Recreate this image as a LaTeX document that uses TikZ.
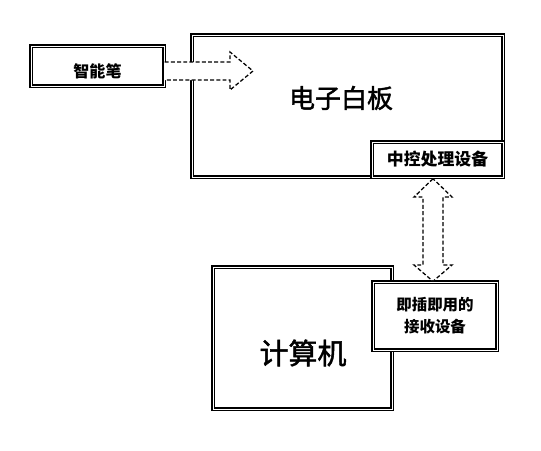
\documentclass[tikz,border=0pt]{standalone}
\usepackage{fontspec}
\setmainfont{Noto Sans CJK SC}
\newfontfamily\felkover[FakeBold=1.6]{Noto Sans CJK SC}
\usetikzlibrary{calc}

\begin{document}
\begin{tikzpicture}[x=0.025cm,y=-0.025cm,
    doboz/.style={draw,line width=1pt,double=white,double distance=0.7pt,fill=white,inner sep=0pt},
    nyil/.style={draw,line width=0.9pt,dash pattern=on 2.8pt off 1.6pt,fill=white,line join=miter},
    kis/.style={font=\bfseries\fontsize{12}{14}\selectfont},
    nagy/.style={font=\felkover\fontsize{18.5}{22}\selectfont}]
    % Keret
    \useasboundingbox (0,0) rectangle (541,450);

    % Elektronikus tábla és a vezérlő
    \node[doboz,minimum width=311*0.025cm,minimum height=142*0.025cm] (tabla) at (347.5,106) {};
    \node[nagy] (tablafelirat) at (341,98) {电子白板};
    \node[doboz,minimum width=131*0.025cm,minimum height=35*0.025cm] (kozp) at (437.5,159.5) {};
    \node[kis] (kozpfelirat) at (kozp) {中控处理设备};

    % Toll
    \node[doboz,minimum width=133*0.025cm,minimum height=40*0.025cm] (toll) at (97.5,66) {};
    \node[kis,font=\bfseries\fontsize{11.4}{14}\selectfont] (tollfelirat) at (97.5,71) {智能笔};

    % Toll -> tábla nyíl
    \draw[nyil] ($(toll.east)+(0,-4)$) -- (230,62) -- (230,52) -- (253,71)
        -- (230,90) -- (230,80) -- ($(toll.east)+(0,14)$);

    % Számítógép és a vevő
    \node[doboz,minimum width=179*0.025cm,minimum height=142*0.025cm] (gep) at (302.5,338) {};
    \node[nagy,font=\felkover\fontsize{20.6}{24}\selectfont] (gepfelirat) at (303,353) {计算机};
    \node[doboz,minimum width=124*0.025cm,minimum height=68*0.025cm] (vevo) at (435,316) {};
    \node[kis,font=\bfseries\fontsize{11}{15.6}\selectfont,align=center] (vevofelirat) at (vevo) {即插即用的\\接收设备};

    % Kétirányú nyíl
    \coordinate (fent) at ($(kozp.south)+(-4.5,1)$);
    \coordinate (lent) at ($(vevo.north)+(-2,0)$);
    \draw[nyil] (fent) -- (414,197) -- (423,197) -- (423,265) -- (414,265) -- (lent)
        -- (452,265) -- (443,265) -- (443,197) -- (452,197) -- cycle;
\end{tikzpicture}
\end{document}
